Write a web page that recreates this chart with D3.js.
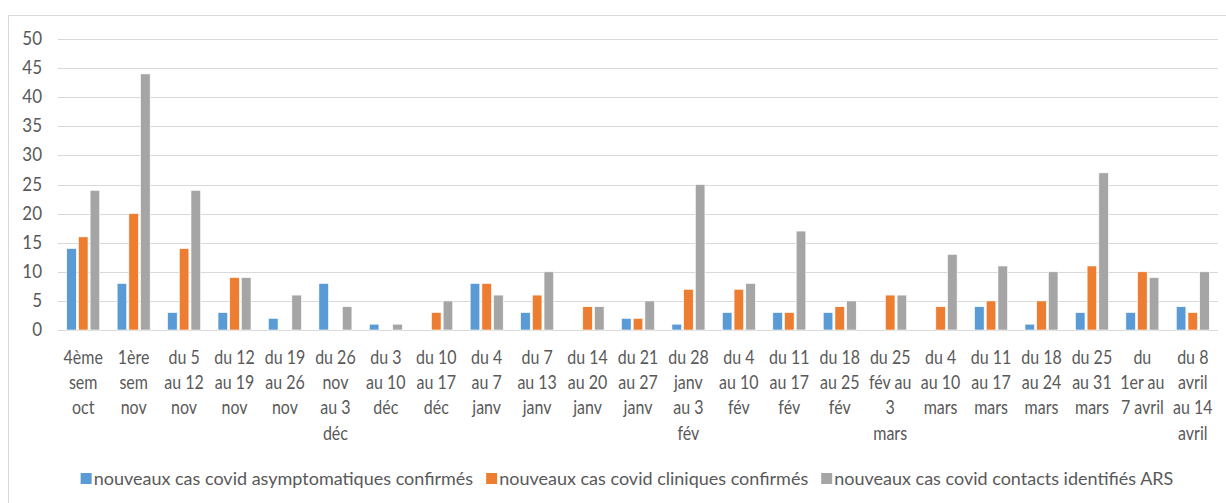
<!doctype html>
<html lang="fr">
<head>
    <meta charset="UTF-8">
    <script src="https://cdnjs.cloudflare.com/ajax/libs/d3/7.8.5/d3.min.js"></script>
    <title>Nouveaux cas covid</title>
    <style>
        body { margin: 0; background: #fff; }
        text { font-family: Lato, "Open Sans", sans-serif; fill: #595959; }
    </style>
</head>
<body>

<div id="Area"></div>

<script>

    // semaines (les retours à la ligne suivent le graphique d'origine)
    const categories = [
        "4ème\nsem\noct", "1ère\nsem\nnov", "du 5\nau 12\nnov", "du 12\nau 19\nnov",
        "du 19\nau 26\nnov", "du 26\nnov\nau 3\ndéc", "du 3\nau 10\ndéc", "du 10\nau 17\ndéc",
        "du 4\nau 7\njanv", "du 7\nau 13\njanv", "du 14\nau 20\njanv", "du 21\nau 27\njanv",
        "du 28\njanv\nau 3\nfév", "du 4\nau 10\nfév", "du 11\nau 17\nfév", "du 18\nau 25\nfév",
        "du 25\nfév au\n3\nmars", "du 4\nau 10\nmars", "du 11\nau 17\nmars", "du 18\nau 24\nmars",
        "du 25\nau 31\nmars", "du\n1er au\n7 avril", "du 8\navril\nau 14\navril"
    ];

    const seriesNames = [
        "nouveaux cas covid asymptomatiques confirmés",
        "nouveaux cas covid cliniques confirmés",
        "nouveaux cas covid contacts identifiés ARS"
    ];

    const asymptomatiques = [14, 8, 3, 3, 2, 8, 1, 0, 8, 3, 0, 2, 1, 3, 3, 3, 0, 0, 4, 1, 3, 3, 4];
    const cliniques       = [16, 20, 14, 9, 0, 0, 0, 3, 8, 6, 4, 2, 7, 7, 3, 4, 6, 4, 5, 5, 11, 10, 3];
    const contacts        = [24, 44, 24, 9, 6, 4, 1, 5, 6, 10, 4, 5, 25, 8, 17, 5, 6, 13, 11, 10, 27, 9, 10];

    const yTicks = [0, 5, 10, 15, 20, 25, 30, 35, 40, 45, 50];
    const colors = ["#5B9BD5", "#ED7D31", "#A5A5A5"];

    const values = [asymptomatiques, cliniques, contacts];

    const W = 1226, H = 503;
    const plot = {left: 58, right: 1218, top: 39, bottom: 330};
    const stretch = 1.15;   // le texte d'origine est un peu étiré en hauteur

    const svg = d3.select("#Area")
        .append("svg")
        .attr("width", W)
        .attr("height", H);

    // cadre du graphique
    svg.append("path")
        .attr("d", "M8.5," + H + "V15.5H" + W)
        .attr("fill", "none")
        .attr("stroke", "#D9D9D9")
        .attr("stroke-width", 1);

    const x0 = d3.scaleBand()
        .domain(d3.range(categories.length))
        .range([plot.left, plot.right]);

    const bw = x0.bandwidth();
    const x1 = d3.scaleBand()
        .domain(d3.range(seriesNames.length))
        .range([bw / 2 - 16.5, bw / 2 + 16.5])
        .paddingInner(0.18);

    const y = d3.scaleLinear()
        .domain([0, 50])
        .range([plot.bottom, plot.top]);

    // grille
    svg.append("g")
        .selectAll("line")
        .data(yTicks)
        .join("line")
        .attr("x1", plot.left)
        .attr("x2", plot.right)
        .attr("y1", d => Math.round(y(d)) + 0.5)
        .attr("y2", d => Math.round(y(d)) + 0.5)
        .attr("stroke", "#D9D9D9")
        .attr("stroke-width", 1.2);

    // axe des y
    svg.append("g")
        .selectAll("text")
        .data(yTicks)
        .join("text")
        .attr("text-anchor", "end")
        .attr("font-size", 17)
        .attr("transform", d => "translate(42," + (y(d) + 6) + ") scale(1," + stretch + ")")
        .text(d => d);

    // barres
    const groups = svg.append("g")
        .selectAll("g")
        .data(categories.map((c, i) => i))
        .join("g")
        .attr("transform", i => "translate(" + x0(i) + ",0)");

    groups.selectAll("rect")
        .data(i => values.map((v, s) => ({s: s, v: v[i]})))
        .join("rect")
        .attr("x", d => x1(d.s))
        .attr("width", x1.bandwidth())
        .attr("y", d => y(d.v))
        .attr("height", d => y(0) - y(d.v))
        .attr("fill", d => colors[d.s])
        .attr("stroke", "#fff")
        .attr("stroke-width", 0.6);

    // étiquettes des catégories
    const xl = svg.append("g")
        .selectAll("text")
        .data(categories)
        .join("text")
        .attr("text-anchor", "middle")
        .attr("font-size", 16)
        .attr("transform", (c, i) => "translate(" + (x0(i) + bw / 2) + ",364) scale(1," + stretch + ")");

    xl.selectAll("tspan")
        .data(c => c.split("\n"))
        .join("tspan")
        .attr("x", 0)
        .attr("y", (d, k) => k * 25.2 / stretch)
        .text(d => d);

    // légende
    const leg = svg.append("g");
    let lx = 0;
    seriesNames.forEach((name, s) => {
        leg.append("rect")
            .attr("x", lx)
            .attr("y", 473)
            .attr("width", 11)
            .attr("height", 11)
            .attr("fill", colors[s]);
        const t = leg.append("text")
            .attr("x", lx + 13)
            .attr("y", 485)
            .attr("font-size", 18)
            .text(name);
        lx += 13 + t.node().getComputedTextLength() + 13;
    });
    lx -= 13;
    leg.attr("transform", "translate(" + (627 - lx / 2) + ",0)");

</script>
</body>
</html>
